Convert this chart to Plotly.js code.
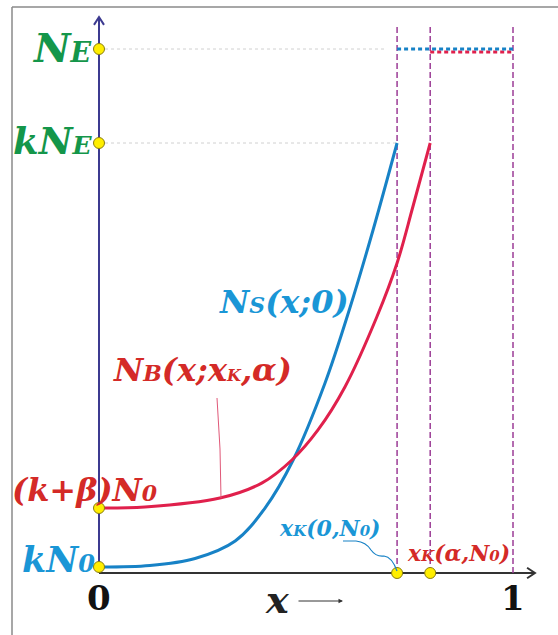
<!DOCTYPE html>
<html><head><meta charset="utf-8">
<script src="https://cdn.plot.ly/plotly-3.0.1.min.js"></script>
<style>html,body{margin:0;padding:0;background:#fff;}#chart{width:558px;height:635px;}</style>
</head><body><div id="chart"></div>
<script>
// ---- data (arbitrary units: NE = 10) ----
const NE = 10;
const kNE = 8.206;
const kBetaN0 = 1.24;
const kN0 = 0.115;
const xK0 = 0.72;      // xK(0,N0)
const xKa = 0.80;      // xK(alpha,N0)
const xEnd = 1;

const nsX = [0, 0.123, 0.232, 0.329, 0.401, 0.469, 0.546, 0.606, 0.662, 0.720];
const nsY = [0.115, 0.143, 0.277, 0.611, 1.240, 2.157, 3.626, 5.057, 6.546, 8.206];

const nbX = [0, 0.111, 0.292, 0.394, 0.466, 0.529, 0.594, 0.671, 0.720, 0.758, 0.800];
const nbY = [1.24, 1.26, 1.43, 1.72, 2.157, 2.73, 3.55, 4.885, 5.916, 6.985, 8.206];

const xTickVals = [0, 1];
const xTickText = ['0', '1'];

// ---- styling ----
const W = 558, H = 635;
const GREEN = '#14964a', BLUE_T = '#1a96d6', BLUE = '#1782c6', RED_T = '#d42a27', RED = '#e0204c', PURPLE = '#9c3c96';
const FONT = 'DejaVu Serif';
const xRange = [-99/414, (W-99)/414];
const yRange = [(573-H)/524*10, 573/524*10];
const axisTop = 10.61, axisRight = 1.053, dashTop = 10.42;
function px(x){return x/W;} function py(y){return 1-y/H;}
function path(pts){return pts.map(p=>px(p[0])+','+py(p[1])).join(' ');}

const traces = [
  {x:[0,0.69], y:[NE,NE], mode:'lines', line:{color:'#d0d0d0', width:1, dash:'dot'}},
  {x:[0,xK0], y:[kNE,kNE], mode:'lines', line:{color:'#d0d0d0', width:1, dash:'dot'}},
  {x:nsX, y:nsY, mode:'lines', line:{color:BLUE, width:3, shape:'spline', smoothing:1}},
  {x:nbX, y:nbY, mode:'lines', line:{color:RED, width:3, shape:'spline', smoothing:1}},
  {x:[xKa, xEnd], y:[NE-0.055, NE-0.055], mode:'lines', line:{color:RED, width:3, dash:'4px,3px'}},
  {x:[xK0, xEnd], y:[NE, NE], mode:'lines', line:{color:BLUE, width:3, dash:'4px,3px'}},
  {x:[0,0,0,0,xK0,xKa], y:[NE,kNE,kBetaN0,kN0,0,0], mode:'markers',
   marker:{color:'#ffee00', size:11, line:{color:'#8a7d10', width:1}}, cliponaxis:false}
];

const shapes = [
  // frame
  {type:'line', xref:'paper', yref:'paper', x0:px(12), x1:1, y0:py(7), y1:py(7), line:{color:'#8a8a8a', width:1.5}},
  {type:'line', xref:'paper', yref:'paper', x0:px(12), x1:px(12), y0:py(7), y1:0, line:{color:'#8a8a8a', width:1.5}},
  // axes
  {type:'line', x0:0, x1:0, y0:0, y1:axisTop, line:{color:'#3c3a90', width:2}, layer:'below'},
  {type:'path', path:'M -0.0121,10.46 L 0,'+axisTop+' L 0.0121,10.46', line:{color:'#3c3a90', width:2}, layer:'below'},
  {type:'line', x0:0, x1:axisRight, y0:0, y1:0, line:{color:'#333', width:2}, layer:'below'},
  {type:'path', path:'M 1.034,0.1 L '+axisRight+',0 L 1.034,-0.1', line:{color:'#333', width:2}, layer:'below'},
  // dashed verticals
  ...[xK0, xKa, xEnd].map(v=>({type:'line', x0:v, x1:v, y0:0, y1:dashTop, line:{color:PURPLE, width:1.5, dash:'6px,3px'}, layer:'below'})),
  // leader lines
  {type:'path', xref:'paper', yref:'paper', path:'M '+path([[343,541]])+' L '+path([[356,541]])+' Q '+path([[366,542],[371,550]])+' Q '+path([[376,557],[384,556]])+' Q '+path([[392,557],[397,571]]), line:{color:BLUE, width:1.2}},
  {type:'path', xref:'paper', yref:'paper', path:'M '+path([[217,398]])+' Q '+path([[221,450],[221,498]]), line:{color:'#e05878', width:1}}
];

function F(size,color,italic){return {family:FONT, size:size, color:color, weight:700, style:italic===false?'normal':'italic'};}
function sm(t,s){return '<span style="font-size:'+s+'px">'+t+'</span>';}
function P(o){return Object.assign({showarrow:false, xref:'paper', yref:'paper', xanchor:'center', yanchor:'middle'}, o);}
function D(o){return Object.assign({showarrow:false, xref:'x', yref:'y', yanchor:'middle'}, o);}
const annotations = [
  D({x:0, y:NE, xanchor:'right', xshift:-5, yshift:2, text:'N'+sm('E',27), font:F(40,GREEN)}),
  D({x:0, y:kNE, xanchor:'right', xshift:-5, yshift:2, text:'kN'+sm('E',25), font:F(37,GREEN)}),
  D({x:0, y:kBetaN0, xanchor:'left', xshift:-89, yshift:18, text:'(k+β)N'+sm('0',22), font:F(32,RED_T)}),
  D({x:0, y:kN0, xanchor:'right', xshift:-2, yshift:7, text:'kN'+sm('0',24), font:F(35,BLUE_T)}),
  ...xTickVals.map((v,i)=>D({x:v, y:0, xanchor:'center', yshift:-25, text:xTickText[i], font:F(34,'#111',false)})),
  P({x:px(277), y:py(599), text:'x', font:F(38,'#222')}),
  {x:px(343), y:py(601), xref:'paper', yref:'paper', text:'', showarrow:true, ax:-46, ay:0, arrowhead:2, arrowsize:0.9, arrowwidth:1, arrowcolor:'#333'},
  P({x:px(284), y:py(302), text:'N'+sm('S',22)+'(x;0)', font:F(32,BLUE_T)}),
  P({x:px(202), y:py(370), text:'N'+sm('B',22)+'(x;x'+sm('K',16)+',α)', font:F(32,RED_T)}),
  P({x:px(330), y:py(528), text:'x'+sm('K',15)+'(0,N'+sm('0',15)+')', font:F(22,BLUE_T)}),
  P({x:px(458), y:py(553), text:'x'+sm('K',15)+'(α,N'+sm('0',15)+')', font:F(22,RED_T)})
];

const layout = {
  width:W, height:H, margin:{l:0,r:0,t:0,b:0},
  paper_bgcolor:'#fff', plot_bgcolor:'#fff', showlegend:false,
  xaxis:{range:xRange, visible:false, fixedrange:true},
  yaxis:{range:yRange, visible:false, fixedrange:true},
  shapes, annotations
};
Plotly.newPlot('chart', traces, layout, {staticPlot:true, displayModeBar:false});
</script></body></html>
